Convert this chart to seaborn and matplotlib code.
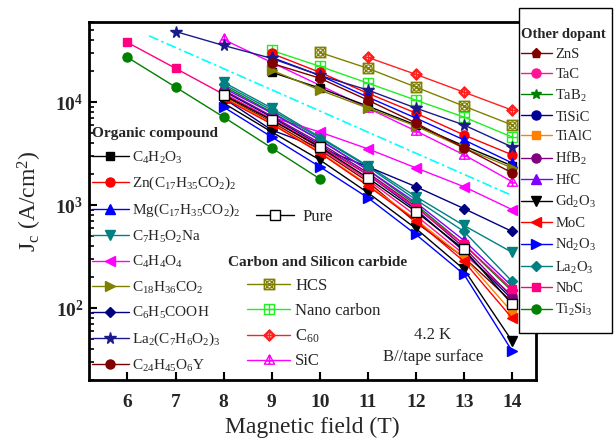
import matplotlib
matplotlib.use("Agg")
import matplotlib.pyplot as plt
import seaborn as sns
from matplotlib.lines import Line2D
from matplotlib.path import Path
from matplotlib.patches import Rectangle
from matplotlib.ticker import FixedLocator, FixedFormatter, LogLocator, NullFormatter

sns.set_theme(style="ticks")
plt.rcParams["font.family"] = ["Liberation Serif", "DejaVu Serif"]
plt.rcParams["mathtext.fontset"] = "custom"
plt.rcParams["mathtext.rm"] = "Liberation Serif"
plt.rcParams["mathtext.it"] = "Liberation Serif:italic"
plt.rcParams["mathtext.bf"] = "Liberation Serif:bold"

# ---------------- data: critical current density Jc (A/cm^2) vs field (T) ----------------
field_6_14 = [6, 7, 8, 9, 10, 11, 12, 13, 14]
field_6_10 = [6, 7, 8, 9, 10]
field_7_14 = [7, 8, 9, 10, 11, 12, 13, 14]
field_8_14 = [8, 9, 10, 11, 12, 13, 14]
field_9_14 = [9, 10, 11, 12, 13, 14]
field_10_14 = [10, 11, 12, 13, 14]
field_11_14 = [11, 12, 13, 14]

# organic compound additions
jc_c4h2o3 = [19500, 13700, 9150, 6000, 3760, 2410]
jc_zn_stearate = [29700, 19500, 12200, 7830, 4800, 3080]
jc_mg_stearate = [27200, 18200, 11200, 7000, 4300, 2570]
jc_c7h5o2na = [15600, 8750, 4590, 2410, 1210, 634, 348]
jc_c4h4o4 = [7160, 5130, 3520, 2300, 1510, 905]
jc_c18h36co2 = [20400, 13100, 8750, 5860, 3590, 2300]
jc_c6h5cooh = [10900, 5360, 3590, 2360, 1510, 925, 555]
jc_la2_benzoate = [48500, 35500, 26600, 18200, 13100, 8750, 6000, 3670]
jc_c24h45o6y = [23800, 17100, 10450, 6270, 3590, 2060]

# undoped reference
jc_pure = [11700, 6700, 3670, 1840, 865, 372, 109]

# carbon and silicon carbide additions
jc_hcs = [30400, 21300, 14000, 9150, 6000]
jc_nano_carbon = [31800, 22300, 15300, 10450, 7160, 4590]
jc_c60 = [27200, 18600, 12500, 8370]
jc_sic = [40600, 24300, 14600, 8750, 5250, 3080, 1690]

# other dopants
jc_zns = [11400, 6410, 3440, 1690, 677, 311, 115]
jc_tac = [12200, 6850, 3590, 1760, 792, 333, 134]
jc_tab2 = [14300, 8000, 4300, 2200, 1010, 415, 146]
jc_tisic = [12800, 7160, 3850, 1970, 905, 356, 122]
jc_tialc = [11200, 6270, 3290, 1580, 724, 311, 91.5]
jc_hfb2 = [13100, 7320, 4020, 2060, 968, 388, 128]
jc_hfc = [13700, 7830, 4300, 2200, 1060, 454, 163]
jc_gd2o3 = [9780, 5130, 2750, 1320, 593, 238, 48]
jc_moc = [10900, 6130, 3220, 1540, 708, 284, 80]
jc_nd2o3 = [8950, 4590, 2360, 1180, 519, 213, 38.5]
jc_la2o3 = [14900, 8370, 4490, 2360, 1130, 555, 182]
jc_nbc = [38000, 21300, 11900, 6850, 3760, 1970, 946, 415, 153]
jc_ti2si3 = [27200, 14000, 7160, 3590, 1800]

# dash-dot guide line
guide_field = [6.45, 14]
guide_jc = [44000, 1240]

y_ticks = [100, 1000, 10000]
y_tick_labels = [r"$\mathbf{10^{2}}$", r"$\mathbf{10^{3}}$", r"$\mathbf{10^{4}}$"]
x_ticks = [6, 7, 8, 9, 10, 11, 12, 13, 14]


# ---------------- open markers with inner crosses ----------------
def compound(*paths):
    return Path.make_compound_path(*paths)


def seg(p0, p1):
    return Path([p0, p1], [Path.MOVETO, Path.LINETO])


square = Path([(-1, -1), (1, -1), (1, 1), (-1, 1), (-1, -1)],
              [Path.MOVETO, Path.LINETO, Path.LINETO, Path.LINETO, Path.CLOSEPOLY])
diamond = Path([(0, -1.3), (1.3, 0), (0, 1.3), (-1.3, 0), (0, -1.3)],
               [Path.MOVETO, Path.LINETO, Path.LINETO, Path.LINETO, Path.CLOSEPOLY])
triangle = Path([(0, 1.2), (1.1, -0.8), (-1.1, -0.8), (0, 1.2)],
                [Path.MOVETO, Path.LINETO, Path.LINETO, Path.CLOSEPOLY])
small_circle = Path.circle((0, 0), 0.7)

m_hcs = compound(square, small_circle, seg((-1, -1), (1, 1)), seg((-1, 1), (1, -1)))
m_nano = compound(square, seg((0, -1), (0, 1)), seg((-1, 0), (1, 0)))
m_c60 = compound(diamond, small_circle, seg((0, -1.3), (0, 1.3)), seg((-1.3, 0), (1.3, 0)))
m_sic = compound(triangle, seg((0, 1.2), (0, -0.8)), seg((-0.6, -0.1), (0.6, -0.1)))

# ---------------- series styles ----------------
organic = [
    (r"C$_{4}$H$_{2}$O$_{3}$", field_9_14, jc_c4h2o3, "#000000", "s", 5.5, None),
    (r"Zn(C$_{17}$H$_{35}$CO$_{2}$)$_{2}$", field_9_14, jc_zn_stearate, "#ff0000", "o", 6.5, None),
    (r"Mg(C$_{17}$H$_{35}$CO$_{2}$)$_{2}$", field_9_14, jc_mg_stearate, "#0000ff", "^", 6.5, None),
    (r"C$_{7}$H$_{5}$O$_{2}$Na", field_8_14, jc_c7h5o2na, "#008080", "v", 6.5, None),
    (r"C$_{4}$H$_{4}$O$_{4}$", field_9_14, jc_c4h4o4, "#ff00ff", "<", 6.5, None),
    (r"C$_{18}$H$_{36}$CO$_{2}$", field_9_14, jc_c18h36co2, "#808000", ">", 6.5, None),
    (r"C$_{6}$H$_{5}$COOH", field_8_14, jc_c6h5cooh, "#000080", "D", 5.2, None),
    (r"La$_{2}$(C$_{7}$H$_{6}$O$_{2}$)$_{3}$", field_7_14, jc_la2_benzoate, "#1a1a8c", "*", 8.5, None),
    (r"C$_{24}$H$_{45}$O$_{6}$Y", field_9_14, jc_c24h45o6y, "#800000", "o", 6.5, None),
]

carbon = [
    ("HCS", field_10_14, jc_hcs, "#808000", m_hcs, 7.5, "none"),
    ("Nano carbon", field_9_14, jc_nano_carbon, "#22ee22", m_nano, 7, "none"),
    (r"C$_{60}$", field_11_14, jc_c60, "#ff2020", m_c60, 8, "none"),
    ("SiC", field_8_14, jc_sic, "#ff00ff", m_sic, 8, "none"),
]

others = [
    ("ZnS", field_8_14, jc_zns, "#800000", "p", 6.5, None),
    ("TaC", field_8_14, jc_tac, "#ff1493", "o", 6.5, None),
    (r"TaB$_{2}$", field_8_14, jc_tab2, "#008000", "*", 7.5, None),
    ("TiSiC", field_8_14, jc_tisic, "#000099", "o", 6.5, None),
    ("TiAlC", field_8_14, jc_tialc, "#ff8000", "s", 5.5, None),
    (r"HfB$_{2}$", field_8_14, jc_hfb2, "#800080", "o", 6.5, None),
    ("HfC", field_8_14, jc_hfc, "#8000ff", "^", 6.5, None),
    (r"Gd$_{2}$O$_{3}$", field_8_14, jc_gd2o3, "#000000", "v", 6.5, None),
    ("MoC", field_8_14, jc_moc, "#ff0000", "<", 6.5, None),
    (r"Nd$_{2}$O$_{3}$", field_8_14, jc_nd2o3, "#0000ff", ">", 6.5, None),
    (r"La$_{2}$O$_{3}$", field_8_14, jc_la2o3, "#008080", "D", 5.2, None),
    ("NbC", field_6_14, jc_nbc, "#ff0080", "s", 5.8, None),
    (r"Ti$_{2}$Si$_{3}$", field_6_10, jc_ti2si3, "#008000", "o", 6.5, None),
]

pure = ("Pure", field_8_14, jc_pure, "#000000", "s", 6.5, "#ffffff")

# ---------------- figure ----------------
fig = plt.figure(figsize=(6.16, 4.47), dpi=100)
W, H = 616.0, 447.0
ax = fig.add_axes([89 / W, (H - 380) / H, (536 - 89) / W, (380 - 22) / H])
ax.set_yscale("log")

sns.lineplot(x=guide_field, y=guide_jc, ax=ax, color="#00ffff", linewidth=1.2,
             linestyle=(0, (6, 2, 1.5, 2)), legend=False, estimator=None, sort=False)


def draw(spec):
    label, xs, ys, color, marker, ms, fc = spec
    sns.lineplot(x=xs, y=ys, ax=ax, color=color, linewidth=1.0, marker=marker,
                 markersize=ms, markeredgecolor=color,
                 markerfacecolor=(color if fc is None else fc),
                 markeredgewidth=1.0, legend=False, estimator=None, sort=False)


def handle(spec):
    label, xs, ys, color, marker, ms, fc = spec
    return Line2D([], [], color=color, linewidth=1.0, marker=marker, markersize=ms,
                  markeredgecolor=color, markerfacecolor=(color if fc is None else fc),
                  markeredgewidth=1.0)


for spec in carbon + organic:
    draw(spec)
for spec in others:
    draw(spec)
draw(pure)

ax.set_xlim(5.2, 14.5)
ax.set_ylim(20, 60000)

ax.xaxis.set_major_locator(FixedLocator(x_ticks))
ax.set_xticklabels([str(v) for v in x_ticks], fontsize=14, fontweight="bold")
ax.yaxis.set_major_locator(FixedLocator(y_ticks))
ax.yaxis.set_major_formatter(FixedFormatter(y_tick_labels))
ax.yaxis.set_minor_locator(LogLocator(base=10, subs=[2, 3, 4, 5, 6, 7, 8, 9]))
ax.yaxis.set_minor_formatter(NullFormatter())
ax.tick_params(axis="y", which="major", labelsize=14, pad=4)
ax.tick_params(axis="x", which="major", pad=10)
ax.tick_params(which="both", direction="in", top=False, right=False, color="black")
ax.tick_params(which="major", length=6, width=1.5)
ax.tick_params(which="minor", length=3.5, width=1.2)
ax.tick_params(axis="x", which="minor", bottom=False)
for sp in ax.spines.values():
    sp.set_linewidth(2)
    sp.set_color("black")

ax.set_xlabel("Magnetic field (T)", fontsize=17, labelpad=4)
ax.set_ylabel(r"J$_{\rm c}$ (A/cm$^{2}$)", fontsize=17, labelpad=8)

# annotation
ax.text(433 / W, 1 - 335 / H, "4.2 K", transform=fig.transFigure, fontsize=12,
        ha="center", va="center")
ax.text(433 / W, 1 - 357 / H, "B//tape surface", transform=fig.transFigure, fontsize=12,
        ha="center", va="center")

# ---------------- legends ----------------
leg_org = fig.legend([handle(s) for s in organic], [s[0] for s in organic],
                     loc="upper left", bbox_to_anchor=(92 / W, 1 - 127 / H),
                     frameon=False, fontsize=11, title="Organic compound",
                     title_fontproperties={"weight": "bold", "size": 11},
                     alignment="left", handlelength=2.4, handletextpad=0.25,
                     labelspacing=0.62, borderpad=0, borderaxespad=0)

leg_pure = fig.legend([handle(pure)], [pure[0]], loc="center left",
                      bbox_to_anchor=(256 / W, 1 - 217 / H), frameon=False, fontsize=12,
                      handlelength=2.3, handletextpad=0.5, borderpad=0, borderaxespad=0)

fig.text(228 / W, 1 - 263 / H, "Carbon and Silicon carbide", fontsize=11,
         fontweight="bold", ha="left", va="center")
leg_c = fig.legend([handle(s) for s in carbon], [s[0] for s in carbon],
                   loc="upper left", bbox_to_anchor=(247 / W, 1 - 278 / H),
                   frameon=False, fontsize=12, handlelength=2.6, handletextpad=0.3,
                   labelspacing=0.52, borderpad=0, borderaxespad=0)

box = Rectangle((519 / W, 1 - 333 / H), 93 / W, 325 / H, transform=fig.transFigure,
                facecolor="white", edgecolor="black", linewidth=1.0, zorder=3)
fig.add_artist(box)
leg_o = fig.legend([handle(s) for s in others], [s[0] for s in others],
                   loc="upper left", bbox_to_anchor=(521 / W, 1 - 28 / H),
                   frameon=False, fontsize=10.5, title="Other dopant",
                   title_fontproperties={"weight": "bold", "size": 10.5},
                   alignment="left", handlelength=2.1, handletextpad=0.25,
                   labelspacing=0.46, borderpad=0, borderaxespad=0)
leg_o.set_zorder(6)

fig.savefig("out.png", dpi=100)
